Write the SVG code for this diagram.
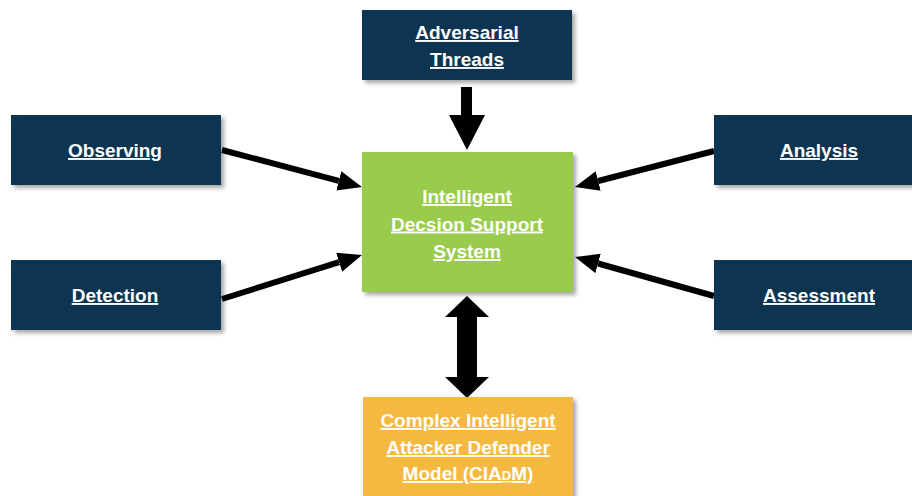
<svg xmlns="http://www.w3.org/2000/svg" width="912" height="496" viewBox="0 0 912 496">
<style>
.box{filter:url(#sh)}
.navy{fill:#113451}
.green{fill:#99CC4D}
.orange{fill:#F5B942}
.t{font-family:"Liberation Sans",Arial,sans-serif;font-weight:bold;font-size:19px;fill:#fff;text-anchor:middle;text-decoration:underline}
.ln{stroke:#000;stroke-width:6;fill:none;marker-end:url(#ah)}
.blk{fill:#000}
</style>
<defs>
<filter id="sh" x="-10%" y="-10%" width="125%" height="130%">
<feDropShadow dx="3" dy="3" stdDeviation="2" flood-color="#000" flood-opacity="0.35"/>
</filter>
<marker id="ah" markerUnits="userSpaceOnUse" viewBox="0 0 24 20" markerWidth="24" markerHeight="20" refX="0" refY="10" orient="auto">
<path d="M0,0 L24,10 L0,20 z" fill="#000"/>
</marker>
</defs>
<rect width="912" height="496" fill="#fff"/>
<g id="connectors">
<line class="ln" x1="222" y1="150" x2="338.8" y2="180.9"/>
<line class="ln" x1="222" y1="299" x2="339.1" y2="262.2"/>
<line class="ln" x1="714" y1="151" x2="598.2" y2="181"/>
<line class="ln" x1="714" y1="296" x2="598.1" y2="263.5"/>
<polygon class="blk" points="461,87 472,87 472,115 485,115 467,150 449,115 461,115"/>
<polygon class="blk" points="467,296 489,317 477,317 477,377 489,377 467,398 445,377 457,377 457,317 445,317"/>
</g>
<g id="adversarial">
<rect class="box navy" x="362" y="10" width="210" height="70"/>
<text class="t" x="467" y="39">Adversarial</text>
<text class="t" x="467" y="66">Threads</text>
</g>
<g id="observing">
<rect class="box navy" x="11" y="115" width="210" height="70"/>
<text class="t" x="115" y="157">Observing</text>
</g>
<g id="detection">
<rect class="box navy" x="11" y="260" width="210" height="70"/>
<text class="t" x="115" y="302">Detection</text>
</g>
<g id="analysis">
<rect class="box navy" x="714" y="115" width="210" height="70"/>
<text class="t" x="819" y="157">Analysis</text>
</g>
<g id="assessment">
<rect class="box navy" x="714" y="260" width="210" height="70"/>
<text class="t" x="819" y="302">Assessment</text>
</g>
<g id="idss">
<rect class="box green" x="362" y="152" width="211" height="140"/>
<text class="t" x="467" y="203">Intelligent</text>
<text class="t" x="467" y="230.5">Decsion Support</text>
<text class="t" x="467" y="258">System</text>
</g>
<g id="ciadm">
<rect class="box orange" x="363" y="397" width="210" height="110"/>
<text class="t" x="468" y="427">Complex Intelligent</text>
<text class="t" x="468" y="454">Attacker Defender</text>
<text class="t" x="468" y="480">Model (CIA<tspan font-size="13">D</tspan>M)</text>
</g>
</svg>
